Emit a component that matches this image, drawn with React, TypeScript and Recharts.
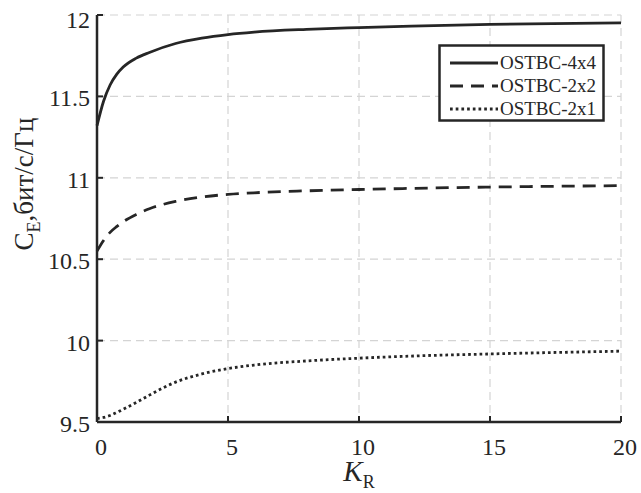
import { LineChart, Line, XAxis, YAxis, CartesianGrid } from "recharts";

const kR = [0, 0.25, 0.5, 0.75, 1, 1.5, 2, 3, 4, 5, 6, 8, 10, 12, 15, 20];
const ostbc44 = [11.32, 11.47, 11.57, 11.635, 11.68, 11.735, 11.77, 11.825, 11.858, 11.88, 11.895, 11.912, 11.923, 11.932, 11.942, 11.952];
const ostbc22 = [10.55, 10.615, 10.665, 10.7, 10.73, 10.775, 10.81, 10.855, 10.882, 10.898, 10.908, 10.92, 10.928, 10.935, 10.943, 10.952];
const ostbc21 = [9.522, 9.528, 9.54, 9.558, 9.578, 9.62, 9.665, 9.745, 9.795, 9.828, 9.85, 9.875, 9.892, 9.905, 9.918, 9.935];
const seriesNames = ["OSTBC-4x4", "OSTBC-2x2", "OSTBC-2x1"];
const xTicks = [0, 5, 10, 15, 20];
const yTicks = [9.5, 10, 10.5, 11, 11.5, 12];

const data = kR.map((k, i) => ({ k, s0: ostbc44[i], s1: ostbc22[i], s2: ostbc21[i] }));

const INK = "#262626";
const FONT = "'Liberation Serif', 'Times New Roman', serif";
const dashes = [undefined, "13 8", "2.7 3"];

const BottomTick = (props: any) => {
  const { x, y, payload } = props;
  return (
    <g>
      <line x1={x} y1={y} x2={x} y2={y - 6} stroke={INK} strokeWidth={2} />
      <text x={x + 4} y={y + 33} textAnchor="middle" fontSize={24} fontFamily={FONT} fill={INK}>
        {payload.value}
      </text>
    </g>
  );
};

const TopTick = (props: any) => {
  const { x, y } = props;
  return <line x1={x} y1={y} x2={x} y2={y + 6} stroke={INK} strokeWidth={2} />;
};

const LeftTick = (props: any) => {
  const { x, y, payload } = props;
  const extra = payload.value === 12 ? 5 : 2;
  return (
    <g>
      <line x1={x} y1={y} x2={x + 6} y2={y} stroke={INK} strokeWidth={2} />
      <text x={x - 7} y={y + extra} textAnchor="end" dominantBaseline="central" fontSize={24} fontFamily={FONT} fill={INK}>
        {payload.value}
      </text>
    </g>
  );
};

const RightTick = (props: any) => {
  const { x, y } = props;
  return <line x1={x} y1={y} x2={x - 6} y2={y} stroke={INK} strokeWidth={2} />;
};

const LegendBox = () => (
  <svg width={167} height={78} style={{ position: "absolute", left: 438, top: 44 }}>
    <rect x={1.5} y={1.5} width={164} height={75} fill="#fff" stroke={INK} strokeWidth={2.5} />
    {seriesNames.map((name, i) => {
      const cy = 19 + i * 23;
      return (
        <g key={name}>
          <line x1={12} y1={cy} x2={60} y2={cy} stroke={INK} strokeWidth={2.8} strokeDasharray={dashes[i]} />
          <text x={62} y={cy + 6} fontSize={18} fontFamily={FONT} fill={INK} textLength={96} lengthAdjust="spacingAndGlyphs">
            {name}
          </text>
        </g>
      );
    })}
  </svg>
);

export default function App() {
  return (
    <div style={{ position: "absolute", left: 0, top: 0, width: 641, height: 493, background: "#fff" }}>
      <LineChart width={641} height={493} data={data} margin={{ top: 15, right: 20, bottom: 0, left: 0 }}>
        <CartesianGrid stroke="#d4d4d4" strokeDasharray="8 5" strokeWidth={1.2} />
        <XAxis
          dataKey="k"
          type="number"
          domain={[0, 20]}
          ticks={xTicks}
          height={71}
          tickSize={0}
          tickMargin={0}
          tickLine={false}
          axisLine={{ stroke: INK, strokeWidth: 2.5 }}
          tick={<BottomTick />}
          label={{
            content: (p: any) => {
              const vb = p.viewBox;
              return (
                <text x={vb.x + vb.width / 2} y={481} textAnchor="middle" fontFamily={FONT} fill={INK}>
                  <tspan fontSize={29} fontStyle="italic">K</tspan>
                  <tspan fontSize={18} dy={7}>R</tspan>
                </text>
              );
            },
          }}
        />
        <XAxis
          xAxisId="top"
          orientation="top"
          dataKey="k"
          type="number"
          domain={[0, 20]}
          ticks={xTicks}
          height={0}
          tickSize={0}
          tickMargin={0}
          tickLine={false}
          axisLine={{ stroke: INK, strokeWidth: 2.5 }}
          tick={<TopTick />}
        />
        <YAxis
          type="number"
          domain={[9.5, 12]}
          ticks={yTicks}
          width={97}
          tickSize={0}
          tickMargin={0}
          tickLine={false}
          axisLine={{ stroke: INK, strokeWidth: 2.5 }}
          tick={<LeftTick />}
          label={{
            content: () => (
              <text x={33} y={184} transform="rotate(-90, 33, 184)" textAnchor="middle" fontFamily={FONT} fill={INK} fontSize={27}>
                <tspan>C</tspan>
                <tspan fontSize={18} dy={7}>E</tspan>
                <tspan dy={-7}>,бит/с/Гц</tspan>
              </text>
            ),
          }}
        />
        <YAxis
          yAxisId="right"
          orientation="right"
          type="number"
          domain={[9.5, 12]}
          ticks={yTicks}
          width={0}
          tickSize={0}
          tickMargin={0}
          tickLine={false}
          axisLine={{ stroke: INK, strokeWidth: 2.5 }}
          tick={<RightTick />}
        />
        {["s0", "s1", "s2"].map((key, i) => (
          <Line
            key={key}
            dataKey={key}
            name={seriesNames[i]}
            type="monotone"
            stroke={INK}
            strokeWidth={2.8}
            strokeDasharray={dashes[i]}
            dot={false}
            isAnimationActive={false}
          />
        ))}
      </LineChart>
      <LegendBox />
    </div>
  );
}
